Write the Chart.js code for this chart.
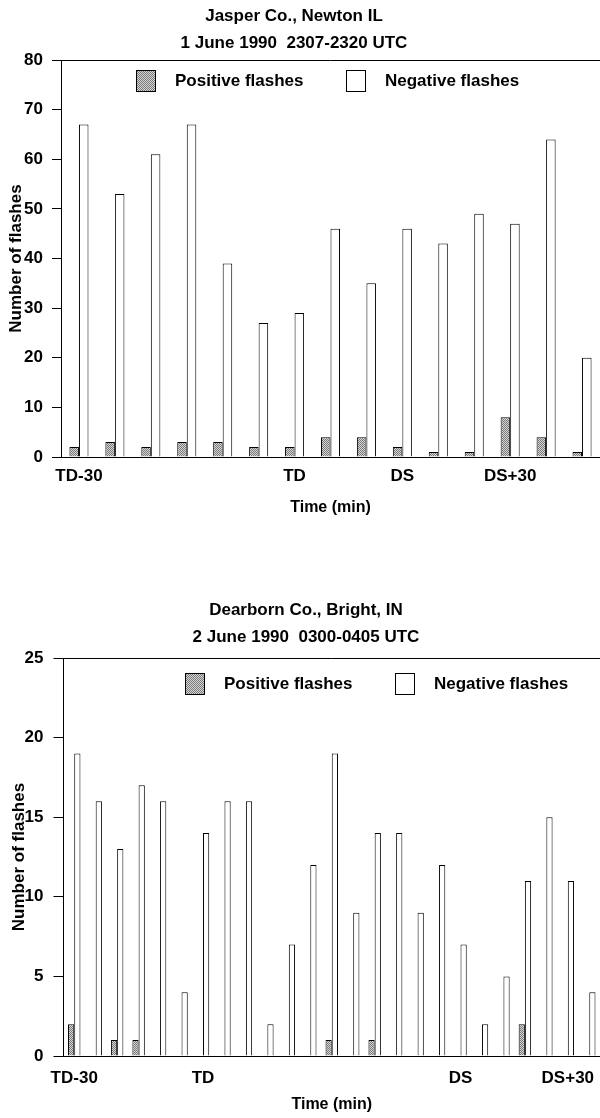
<!DOCTYPE html>
<html>
<head>
<meta charset="utf-8">
<title>Flash counts</title>
<script src="https://cdn.jsdelivr.net/npm/chart.js@4.4.1/dist/chart.umd.min.js"></script>
<style>
    body { margin: 0; background: #fff; }
    #page { position: relative; width: 600px; height: 1118px; overflow: hidden;
            font-family: "Liberation Sans", Arial, sans-serif; }
    .title { position: absolute; width: 600px; z-index: 2; text-align: center;
             font-weight: bold; font-size: 17px; line-height: 27px; color: #000; white-space: pre; }
    .box { position: absolute; left: 0; width: 600px; }
</style>
</head>
<body>
<div id="page">
    <div class="box" style="top:0; height:540px"><canvas id="chartTop"></canvas></div>
    <div class="title" style="top:2px; left:-6px">Jasper Co., Newton IL<br>1 June 1990  2307-2320 UTC</div>
    <div class="box" style="top:590px; height:528px"><canvas id="chartBottom"></canvas></div>
    <div class="title" style="top:596px; left:6px">Dearborn Co., Bright, IN<br>2 June 1990  0300-0405 UTC</div>
</div>
<script>
// Jasper Co. storm, 15 time slots
const topSlots = [ 1, 2, 3, 4, 5, 6, 7, 8, 9, 10, 11, 12, 13, 14, 15 ];
const topPositive = [ 2, 3, 2, 3, 3, 2, 2, 4, 4, 2, 1, 1, 8, 4, 1 ];
const topNegative = [ 67, 53, 61, 67, 39, 27, 29, 46, 35, 46, 43, 49, 47, 64, 20 ];
const topTickSlots = [ 0, 6, 9, 12 ];
const topTickText = [ 'TD-30', 'TD', 'DS', 'DS+30' ];

// Dearborn Co. storm, 25 time slots
const bottomSlots = [ 1, 2, 3, 4, 5, 6, 7, 8, 9, 10, 11, 12, 13, 14, 15, 16, 17, 18, 19, 20, 21, 22, 23, 24, 25 ];
const bottomPositive = [ 2, 0, 1, 1, 0, 0, 0, 0, 0, 0, 0, 0, 1, 0, 1, 0, 0, 0, 0, 0, 0, 2, 0, 0, 0 ];
const bottomNegative = [ 19, 16, 13, 17, 16, 4, 14, 16, 16, 2, 7, 12, 19, 9, 14, 14, 9, 12, 7, 2, 5, 11, 15, 11, 4 ];
const bottomTickSlots = [ 0, 6, 18, 23 ];
const bottomTickText = [ 'TD-30', 'TD', 'DS', 'DS+30' ];

const seriesNames = [ 'Positive flashes', 'Negative flashes' ];
const FONT = '"Liberation Sans", Arial, sans-serif';

// grey stipple used for the positive bars
function stipple()
{
    const c = document.createElement( 'canvas' );
    c.width = 2;
    c.height = 2;
    const g = c.getContext( '2d' );
    g.fillStyle = '#d4d4d4';
    g.fillRect( 0, 0, 2, 2 );
    g.fillStyle = '#7a7a7a';
    g.fillRect( 0, 0, 1, 1 );
    g.fillRect( 1, 1, 1, 1 );
    return g.createPattern( c, 'repeat' );
}
const dots = stipple();

// frame line along the top + legend drawn inside the plot area
const boxLegend = {
    id : 'boxLegend',
    afterDraw( chart, args, opts )
    {
        const ctx = chart.ctx;
        const a = chart.chartArea;
        ctx.save();
        ctx.strokeStyle = '#000';
        ctx.lineWidth = 1;
        ctx.beginPath();
        ctx.moveTo( a.left, Math.round( a.top ) + 0.5 );
        ctx.lineTo( a.right, Math.round( a.top ) + 0.5 );
        ctx.stroke();

        ctx.font = 'bold 17px ' + FONT;
        ctx.textBaseline = 'middle';
        chart.data.datasets.forEach( ( ds, i ) =>
        {
            const x = Math.round( a.left + opts.x + i * opts.step );
            const y = Math.round( a.top + opts.y );
            ctx.fillStyle = ds.backgroundColor;
            ctx.fillRect( x, y, opts.w, opts.h );
            ctx.strokeRect( x + 0.5, y + 0.5, opts.w, opts.h );
            ctx.fillStyle = '#000';
            ctx.fillText( ds.label, x + opts.w + 20, y + opts.h / 2 + 1 );
        });
        ctx.restore();
    }
};

function flashChart( id, slots, pos, neg, yMax, yStep, tickSlots, tickText, L )
{
    return new Chart( document.getElementById( id ), {
        type : 'bar',
        data : {
            labels : slots,
            datasets : [
                { label : seriesNames[ 0 ], data : pos, backgroundColor : dots,
                  borderColor : '#000', borderWidth : 1 },
                { label : seriesNames[ 1 ], data : neg, backgroundColor : '#fff',
                  borderColor : '#000', borderWidth : 1 },
            ]
        },
        options : {
            responsive : true,
            maintainAspectRatio : false,
            animation : false,
            events : [],
            layout : { padding : L.pad },
            categoryPercentage : L.cat,
            barPercentage : 1,
            plugins : {
                legend : { display : false },
                tooltip : { enabled : false },
                boxLegend : L.legend,
            },
            scales : {
                x : {
                    type : 'category',
                    offset : true,
                    grid : { display : false },
                    border : { color : '#000', width : 1 },
                    ticks : {
                        autoSkip : false,
                        maxRotation : 0,
                        padding : L.xTickPad,
                        color : '#000',
                        font : { family : FONT, size : 17, weight : 'bold' },
                        callback : ( v, i ) =>
                        {
                            const k = tickSlots.indexOf( i );
                            return k < 0 ? '' : tickText[ k ];
                        }
                    },
                    title : {
                        display : true,
                        text : 'Time (min)',
                        color : '#000',
                        padding : { top : 0, bottom : L.xTitlePad },
                        font : { family : FONT, size : 16, weight : 'bold' }
                    },
                    afterFit : s => { s.height = L.xHeight; }
                },
                y : {
                    min : 0,
                    max : yMax,
                    ticks : {
                        stepSize : yStep,
                        padding : L.yTickPad,
                        color : '#000',
                        font : { family : FONT, size : 17, weight : 'bold' }
                    },
                    grid : { drawOnChartArea : false, tickLength : L.tick, color : '#000' },
                    border : { color : '#000', width : 1 },
                    title : {
                        display : true,
                        text : 'Number of flashes',
                        color : '#000',
                        padding : 0,
                        font : { family : FONT, size : 17, weight : 'bold' }
                    },
                    afterFit : s => { s.width = L.yWidth; }
                }
            }
        },
        plugins : [ boxLegend ]
    });
}

flashChart( 'chartTop', topSlots, topPositive, topNegative, 80, 10, topTickSlots, topTickText, {
    pad : { top : 60, left : 6, right : 0, bottom : 0 },
    cat : 0.53,
    yWidth : 55,
    xHeight : 83,
    tick : 9,
    yTickPad : 9,
    xTickPad : 1,
    xTitlePad : 23,
    legend : { x : 75, y : 10, step : 210, w : 19, h : 21 },
});

flashChart( 'chartBottom', bottomSlots, bottomPositive, bottomNegative, 25, 5, bottomTickSlots, bottomTickText, {
    pad : { top : 68, left : 9, right : -5, bottom : 0 },
    cat : 0.58,
    yWidth : 54.5,
    xHeight : 62,
    tick : 10,
    yTickPad : 10,
    xTickPad : 4,
    xTitlePad : 4,
    legend : { x : 121, y : 15, step : 210, w : 19, h : 21 },
});
</script>
</body>
</html>
